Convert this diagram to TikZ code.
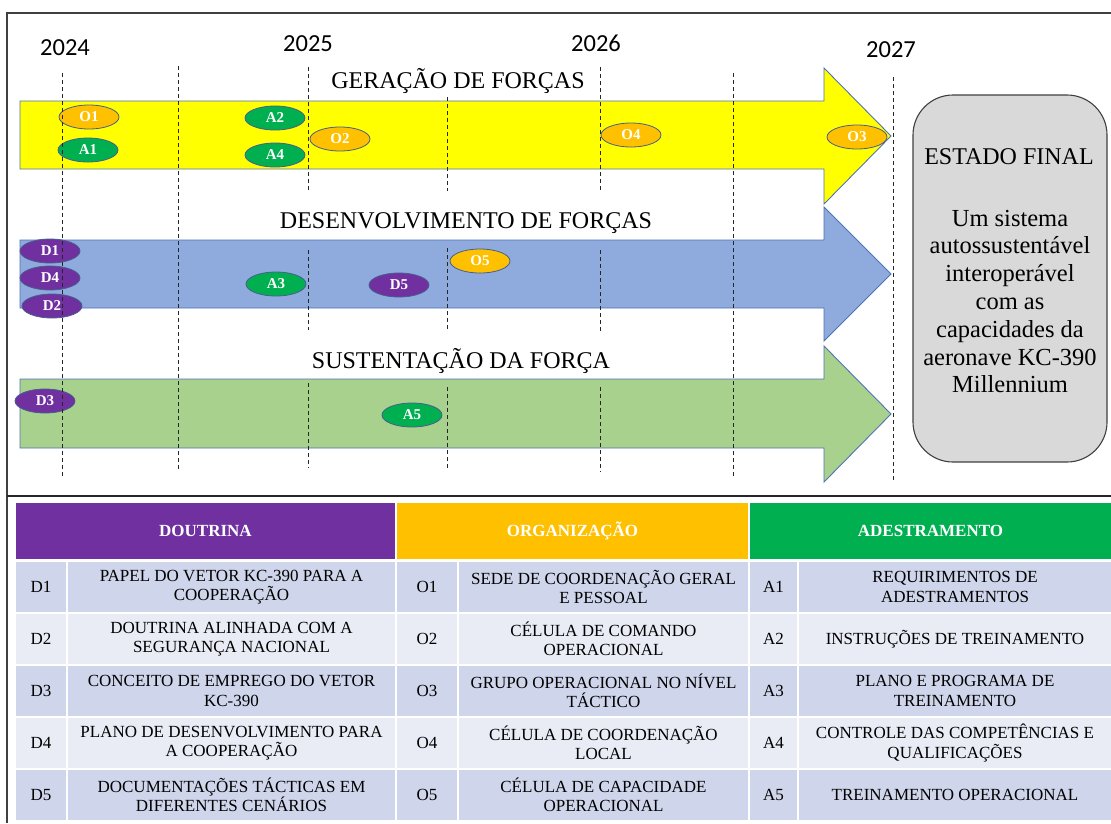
\documentclass[tikz,border=0pt]{standalone}
\usepackage{fontspec}
\setmainfont{Liberation Serif}
\newfontfamily\yearfont{Carlito}
\usetikzlibrary{shapes.geometric}
\definecolor{yel}{RGB}{255,255,0}
\definecolor{blu}{RGB}{143,170,220}
\definecolor{grn}{RGB}{169,209,142}
\definecolor{outl}{RGB}{80,115,180}
\definecolor{bdgl}{RGB}{70,95,140}
\definecolor{orng}{RGB}{255,192,0}
\definecolor{agrn}{RGB}{0,176,80}
\definecolor{purp}{RGB}{112,48,160}
\definecolor{rowA}{RGB}{207,213,234}
\definecolor{rowB}{RGB}{233,235,245}
\definecolor{boxg}{RGB}{217,217,217}
\newcommand\myrow[8]{%
  \node[cell,fill=#2,minimum width=50pt] (c-#3) at (41,#1) {#3};
  \node[cell,fill=#2,minimum width=327pt] (t-#3) at (231.5,#1) {#4};
  \node[cell,fill=#2,minimum width=60pt] (c-#5) at (427,#1) {#5};
  \node[cell,fill=#2,minimum width=289pt] (t-#5) at (603.5,#1) {#6};
  \node[cell,fill=#2,minimum width=47pt] (c-#7) at (773.5,#1) {#7};
  \node[cell,fill=#2,minimum width=312pt] (t-#7) at (955,#1) {#8};
}
\begin{document}
\begin{tikzpicture}[x=1pt,y=-1pt,
  bigarrow/.style={draw=outl,line width=0.9pt,line join=miter},
  ttl/.style={anchor=base,inner sep=0,font=\fontsize{24}{28}\selectfont},
  yr/.style={anchor=base,inner sep=0,font=\yearfont\fontsize{24.5}{28}\selectfont},
  badge/.style={ellipse,draw=bdgl,line width=0.8pt,minimum width=60pt,minimum height=24pt,inner sep=0,text=white,font=\bfseries\fontsize{15}{17}\selectfont},
  obadge/.style={badge,fill=orng},
  abadge/.style={badge,fill=agrn},
  dbadge/.style={badge,fill=purp},
  vline/.style={black!85,line width=0.9pt,dash pattern=on 4pt off 3pt},
  cell/.style={inner sep=0,outer sep=0,minimum height=50pt,align=center,text=black,font=\fontsize{17}{19.5}\selectfont},
  head/.style={inner sep=0,outer sep=0,minimum height=56pt,text=white,font=\bfseries\fontsize{17}{19.5}\selectfont}]
\useasboundingbox (0,0) rectangle (1111,823);
\fill[white] (0,0) rectangle (1111,823);
% frame
\draw[black!75,line width=1.6pt] (1111,13) -- (7,13) -- (7,823);
\draw[black!85,line width=1.2pt] (7,496) -- (1111,496);
% years
\node[yr] (y24) at (65,55) {2024};
\node[yr] (y25) at (308,51) {2025};
\node[yr] (y26) at (596,51) {2026};
\node[yr] (y27) at (891,57) {2027};
% arrows
\draw[bigarrow,fill=yel] (20,101) -- (824,101) -- (824,68) -- (891,136) -- (824,204) -- (824,169) -- (20,169) -- cycle;
\draw[bigarrow,fill=blu] (20,240) -- (824,240) -- (824,207) -- (891,274) -- (824,341) -- (824,308) -- (20,308) -- cycle;
\draw[bigarrow,fill=grn] (20,379) -- (824,379) -- (824,346) -- (891,414) -- (824,482) -- (824,448) -- (20,448) -- cycle;
% titles
\node[ttl] (t1) at (458,88) {GERAÇÃO DE FORÇAS};
\node[ttl] (t2) at (466,228) {DESENVOLVIMENTO DE FORÇAS};
\node[ttl] (t3) at (461,368) {SUSTENTAÇÃO DA FORÇA};
% badges
\node[obadge] (O1) at (89,117) {O1};
\node[abadge] (A1) at (88,150) {A1};
\node[abadge] (A2) at (275,118) {A2};
\node[abadge] (A4) at (275,155) {A4};
\node[obadge] (O2) at (340,139) {O2};
\node[obadge] (O4) at (631,135) {O4};
\node[obadge] (O3) at (857,137) {O3};
\node[dbadge] (D1) at (50,251) {D1};
\node[dbadge] (D4) at (50,278) {D4};
\node[dbadge] (D2) at (52,306) {D2};
\node[abadge] (A3) at (276,284) {A3};
\node[dbadge] (D5) at (399,285) {D5};
\node[obadge] (O5) at (480,261) {O5};
\node[dbadge] (D3) at (45,401) {D3};
\node[abadge] (A5) at (412,415) {A5};
% dashed time lines
\draw[vline] (62,73) -- (62,477);
\draw[vline] (178,66) -- (178,470);
\draw[vline] (308,67) -- (308,192);
\draw[vline] (308,250) -- (308,330);
\draw[vline] (308,383) -- (308,468);
\draw[vline] (447,97) -- (447,191);
\draw[vline] (447,248) -- (447,330);
\draw[vline] (447,387) -- (447,470);
\draw[vline] (600,67) -- (600,192);
\draw[vline] (600,250) -- (600,332);
\draw[vline] (600,387) -- (600,472);
\draw[vline] (733,73) -- (733,477);
\draw[vline] (893,77) -- (893,480);
% final state
\draw[fill=boxg,draw=black!75,line width=1.1pt,rounded corners=40pt] (913,95) rectangle (1107,462);
\node[inner sep=0,font=\fontsize{24}{28}\selectfont] (ef) at (1009,157) {ESTADO FINAL};
\node[inner sep=0,align=center,font=\fontsize{24.5}{27.8}\selectfont] (efb) at (1010,301.5) {Um sistema\\autossustentável\\interoperável\\com as\\capacidades da\\aeronave KC-390\\Millennium};
% table
\node[head,fill=purp,minimum width=379pt] (hD) at (205.5,531) {DOUTRINA};
\node[head,fill=orng,minimum width=351pt] (hO) at (572.5,531) {ORGANIZAÇÃO};
\node[head,fill=agrn,minimum width=361pt] (hA) at (930.5,531) {ADESTRAMENTO};
\myrow{587}{rowA}{D1}{PAPEL DO VETOR KC-390 PARA A\\COOPERAÇÃO}{O1}{SEDE DE COORDENAÇÃO GERAL\\E PESSOAL}{A1}{REQUIRIMENTOS DE\\ADESTRAMENTOS}
\myrow{639}{rowB}{D2}{DOUTRINA ALINHADA COM A\\SEGURANÇA NACIONAL}{O2}{CÉLULA DE COMANDO\\OPERACIONAL}{A2}{INSTRUÇÕES DE TREINAMENTO}
\myrow{691}{rowA}{D3}{CONCEITO DE EMPREGO DO VETOR\\KC-390}{O3}{GRUPO OPERACIONAL NO NÍVEL\\TÁCTICO}{A3}{PLANO E PROGRAMA DE\\TREINAMENTO}
\myrow{743}{rowB}{D4}{PLANO DE DESENVOLVIMENTO PARA\\A COOPERAÇÃO}{O4}{CÉLULA DE COORDENAÇÃO\\LOCAL}{A4}{CONTROLE DAS COMPETÊNCIAS E\\QUALIFICAÇÕES}
\myrow{795}{rowA}{D5}{DOCUMENTAÇÕES TÁCTICAS EM\\DIFERENTES CENÁRIOS}{O5}{CÉLULA DE CAPACIDADE\\OPERACIONAL}{A5}{TREINAMENTO OPERACIONAL}
\end{tikzpicture}
\end{document}
